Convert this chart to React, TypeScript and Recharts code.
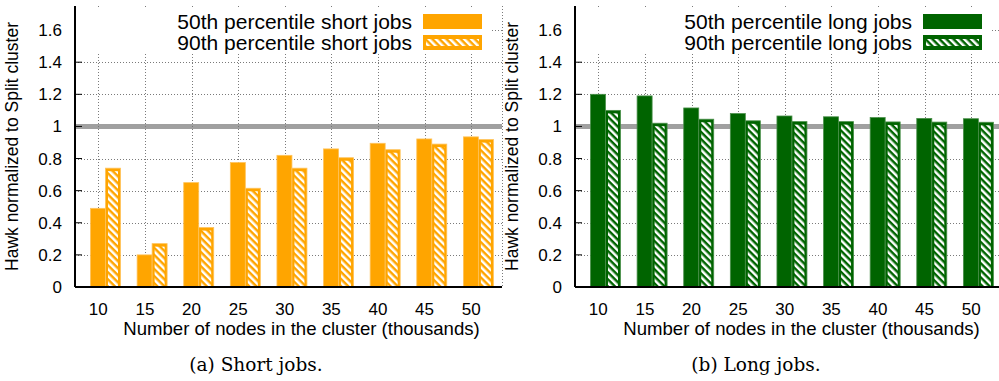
import type { FC } from "react";
import {
	Bar,
	BarChart,
	CartesianGrid,
	Legend,
	XAxis,
	YAxis,
} from "recharts";

const nodes = ["10", "15", "20", "25", "30", "35", "40", "45", "50"];
const shortP50 = [0.49, 0.2, 0.65, 0.775, 0.82, 0.86, 0.895, 0.922, 0.935];
const shortP90 = [0.74, 0.27, 0.37, 0.615, 0.74, 0.805, 0.855, 0.89, 0.918];
const longP50 = [1.2, 1.19, 1.115, 1.08, 1.065, 1.06, 1.055, 1.05, 1.048];
const longP90 = [1.1, 1.02, 1.045, 1.035, 1.03, 1.03, 1.028, 1.027, 1.026];
const yTicks = [0, 0.2, 0.4, 0.6, 0.8, 1, 1.2, 1.4, 1.6];
const baselineValue = 1;

const SANS = '"Liberation Sans", Arial, sans-serif';
const SERIF = '"DejaVu Serif", serif';
const ORANGE = "#ffa500";
const GREEN = "#006400";

type PanelProps = {
	id: string;
	left: number;
	color: string;
	edge: string;
	p50: number[];
	p90: number[];
	names: [string, string];
	caption: string;
};

const YTick = (props: any) => {
	const { x, y, payload } = props;
	return (
		<g>
			<line x1={x + 13} y1={y} x2={x + 20} y2={y} stroke="#000" />
			<text x={x} y={y + 6} textAnchor="end" fontSize={17} fill="#000">
				{String(payload.value)}
			</text>
		</g>
	);
};

const RightTick = (props: any) => {
	const { x, y } = props;
	return <line x1={x - 7} y1={y} x2={x} y2={y} stroke="#000" />;
};

const TopTick = (props: any) => {
	const { x, y } = props;
	return <line x1={x} y1={y} x2={x} y2={y + 5} stroke="#000" />;
};

const XTick = (props: any) => {
	const { x, y, payload } = props;
	return (
		<text x={x} y={y + 28} textAnchor="middle" fontSize={17} fill="#000">
			{payload.value}
		</text>
	);
};

// snap to the pixel grid so the 1px dots stay crisp
const crisp = (v: number) => Math.round(v) + 0.5;

// horizontal grid: dotted at every tick, a thick solid gray line at 1.0
const HorizontalLine = (props: any) => {
	const { x1, x2, y1, index } = props;
	if (yTicks[index] === baselineValue) {
		return <line x1={x1} x2={x2} y1={y1} y2={y1} stroke="#a0a0a0" strokeWidth={5} />;
	}
	const y = crisp(y1);
	return (
		<line
			x1={x1}
			x2={x2}
			y1={y}
			y2={y}
			stroke="#7a7a7a"
			strokeWidth={1}
			strokeDasharray="1 2"
			shapeRendering="crispEdges"
		/>
	);
};

const VerticalLine = (props: any) => {
	const { x1, y1, y2 } = props;
	const x = crisp(x1);
	return (
		<line
			x1={x}
			x2={x}
			y1={y1}
			y2={y2}
			stroke="#7a7a7a"
			strokeWidth={1}
			strokeDasharray="1 2"
			shapeRendering="crispEdges"
		/>
	);
};

const Panel: FC<PanelProps> = ({ id, left, color, edge, p50, p90, names, caption }) => {
	const data = nodes.map((n, i) => ({ n, p50: p50[i], p90: p90[i] }));
	const hatchId = `hatch-${id}`;

	const SolidBar = (props: any) => {
		const { x, y, width, height } = props;
		return (
			<rect x={x} y={y} width={width} height={height} fill={color} stroke={edge} strokeWidth={0.8} />
		);
	};

	const HatchBar = (props: any) => {
		const { x, y, width, height } = props;
		return (
			<g>
				<rect x={x} y={y} width={width} height={height} fill={color} stroke={edge} strokeWidth={0.8} />
				<rect
					x={x + 2.5}
					y={y + 3}
					width={Math.max(0, width - 5)}
					height={Math.max(0, height - 3)}
					fill={`url(#${hatchId})`}
				/>
			</g>
		);
	};

	const renderLegend = () => (
		<div style={{ position: "relative", width: 414, height: 46, background: "#fff", fontFamily: SANS, fontSize: 21 }}>
			{names.map((name, i) => (
				<div key={name}>
					<div
						style={{
							position: "absolute",
							right: 78,
							top: 7 + i * 21 - 4,
							lineHeight: "23px",
							whiteSpace: "nowrap",
							color: "#000",
						}}
					>
						{name}
					</div>
					<svg
						width={59}
						height={15}
						style={{ position: "absolute", left: 347, top: 7 + i * 21 }}
					>
						<rect x={0} y={0} width={59} height={15} fill={color} />
						{i === 1 && <rect x={3} y={4} width={53} height={7} fill={`url(#${hatchId})`} />}
					</svg>
				</div>
			))}
		</div>
	);

	return (
		<div style={{ position: "absolute", left, top: 0, width: 510, height: 381 }}>
			<BarChart
				width={510}
				height={345}
				data={data}
				margin={{ top: 6, right: 8, bottom: 8, left: 0 }}
				barGap={0}
				style={{ fontFamily: SANS }}
			>
				<defs>
					<pattern
						id={hatchId}
						width={5}
						height={5}
						patternUnits="userSpaceOnUse"
						patternTransform="rotate(-45)"
					>
						<rect width={5} height={5} fill={color} />
						<rect width={2.5} height={5} fill="#fff" />
					</pattern>
				</defs>
				<CartesianGrid
					xAxisId="tick"
					yAxisId="left"
					horizontalValues={yTicks}
					horizontal={HorizontalLine}
					vertical={VerticalLine}
					fill="none"
				/>
				<XAxis xAxisId="cat" dataKey="n" hide height={0} padding={{ left: 7.5, right: 0 }} />
				<XAxis
					xAxisId="tick"
					dataKey="n"
					height={50}
					padding={{ left: 0, right: 7.5 }}
					interval={0}
					tickSize={0}
					tickMargin={0}
					tickLine={false}
					tick={<XTick />}
					axisLine={{ stroke: "#000", strokeWidth: 2 }}
					label={{
						content: (p: any) => {
							const vb = p.viewBox;
							return (
								<text x={vb.x + vb.width / 2 + 13} y={335} textAnchor="middle" fontSize={18.6} fill="#000">
									Number of nodes in the cluster (thousands)
								</text>
							);
						},
					}}
				/>
				<XAxis
					xAxisId="top"
					dataKey="n"
					orientation="top"
					height={0}
					padding={{ left: 0, right: 7.5 }}
					interval={0}
					tickSize={0}
					tickMargin={0}
					tickLine={false}
					tick={<TopTick />}
					axisLine={{ stroke: "#000", strokeWidth: 1.5 }}
				/>
				<YAxis
					yAxisId="left"
					width={75}
					domain={[0, 1.75]}
					ticks={yTicks}
					interval={0}
					tickSize={0}
					tickMargin={13}
					tickLine={false}
					tick={<YTick />}
					axisLine={{ stroke: "#000", strokeWidth: 2 }}
					label={{
						content: (p: any) => {
							const vb = p.viewBox;
							const cy = vb.y + vb.height / 2;
							return (
								<text
									transform={`translate(18, ${cy}) rotate(-90)`}
									textAnchor="middle"
									fontSize={17.5}
									fill="#000"
								>
									Hawk normalized to Split cluster
								</text>
							);
						},
					}}
				/>
				<YAxis
					yAxisId="right"
					orientation="right"
					width={0}
					domain={[0, 1.75]}
					ticks={yTicks}
					interval={0}
					tickSize={0}
					tickMargin={0}
					tickLine={false}
					tick={<RightTick />}
					axisLine={{ stroke: "#000", strokeWidth: 1.5 }}
				/>
				<Legend
					content={renderLegend}
					layout="vertical"
					align="center"
					verticalAlign="middle"
					wrapperStyle={{ left: 76, top: 7, width: 414, height: 46 }}
				/>
				<Bar
					xAxisId="cat"
					yAxisId="left"
					dataKey="p50"
					name={names[0]}
					barSize={15}
					fill={color}
					shape={SolidBar}
					isAnimationActive={false}
				/>
				<Bar
					xAxisId="cat"
					yAxisId="left"
					dataKey="p90"
					name={names[1]}
					barSize={15}
					fill={color}
					shape={HatchBar}
					isAnimationActive={false}
				/>
			</BarChart>
			<div
				style={{
					position: "absolute",
					left: 0,
					top: 354,
					width: 512,
					textAlign: "center",
					fontFamily: SERIF,
					fontSize: 18.5,
					lineHeight: "22px",
					color: "#000",
				}}
			>
				{caption}
			</div>
		</div>
	);
};

export default function App() {
	return (
		<div
			style={{
				position: "absolute",
				left: 0,
				top: 0,
				width: 999,
				height: 381,
				overflow: "hidden",
				background: "#fff",
			}}
		>
			<Panel
				id="short"
				left={0}
				color={ORANGE}
				edge="#ffc35a"
				p50={shortP50}
				p90={shortP90}
				names={["50th percentile short jobs", "90th percentile short jobs"]}
				caption="(a) Short jobs."
			/>
			<Panel
				id="long"
				left={500}
				color={GREEN}
				edge="#4a8f4a"
				p50={longP50}
				p90={longP90}
				names={["50th percentile long jobs", "90th percentile long jobs"]}
				caption="(b) Long jobs."
			/>
		</div>
	);
}
